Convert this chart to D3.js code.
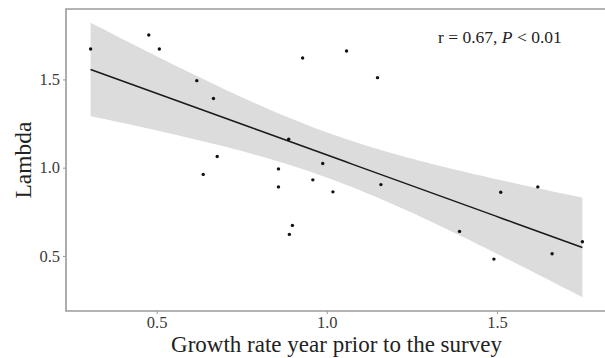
<!DOCTYPE html>
<html>
<head>
<meta charset="utf-8">
<script src="https://cdn.jsdelivr.net/npm/d3@7"></script>
<style>
body { margin: 0; background: #fff; overflow: hidden; }
svg { display: block; font-family: "Liberation Serif", "Times New Roman", serif; }
</style>
</head>
<body>
<div id="chart"></div>
<script>
var growth = [0.306, 0.477, 0.508, 0.618, 0.667, 0.929, 1.058, 1.149, 0.888, 0.678, 0.637, 0.858, 0.858,
    0.988, 0.959, 1.018, 1.159, 0.899, 0.890, 1.511, 1.620, 1.390, 1.491, 1.662, 1.751];
var lambda = [1.672, 1.752, 1.672, 1.493, 1.392, 1.621, 1.661, 1.510, 1.161, 1.063, 0.962, 0.993, 0.891,
    1.024, 0.931, 0.863, 0.904, 0.673, 0.622, 0.861, 0.891, 0.639, 0.482, 0.512, 0.580];
var x_ticks = [0.5, 1.0, 1.5];
var y_ticks = [0.5, 1.0, 1.5];
var x_title = 'Growth rate year prior to the survey';
var y_title = 'Lambda';
var t_crit = 2.069; // t(0.975, df = 23)

const width = 605, height = 358;
var margin = { top: 9, left: 66, bottom: 311, right: 607 };

// linear fit + 95% confidence band like geom_smooth(method = "lm")
var n = growth.length,
    mx = d3.mean(growth),
    my = d3.mean(lambda);
var sxx = 0, sxy = 0;
for (let i = 0; i < n; i++) {
    sxx += (growth[i] - mx) ** 2;
    sxy += (growth[i] - mx) * (lambda[i] - my);
}
var slope = sxy / sxx,
    intercept = my - slope * mx;
var ss_res = 0;
for (let i = 0; i < n; i++) {
    ss_res += (lambda[i] - (intercept + slope * growth[i])) ** 2;
}
var s = Math.sqrt(ss_res / (n - 2));

var x_ext = d3.extent(growth);
var band = d3.range(80).map(function (i) {
    var xv = x_ext[0] + (x_ext[1] - x_ext[0]) * i / 79;
    var fit = intercept + slope * xv;
    var se = s * Math.sqrt(1 / n + (xv - mx) ** 2 / sxx);
    return { x: xv, fit: fit, lo: fit - t_crit * se, hi: fit + t_crit * se };
});

var y_lo = Math.min(d3.min(lambda), d3.min(band, d => d.lo)),
    y_hi = Math.max(d3.max(lambda), d3.max(band, d => d.hi));
var x_pad = (x_ext[1] - x_ext[0]) * 0.05,
    y_pad = (y_hi - y_lo) * 0.05;

var x = d3.scaleLinear()
    .domain([x_ext[0] - x_pad, x_ext[1] + x_pad])
    .range([margin.left, margin.right]);
var y = d3.scaleLinear()
    .domain([y_lo - y_pad, y_hi + y_pad])
    .range([margin.bottom, margin.top]);

var svg = d3.select('#chart').append('svg')
    .attr('width', width)
    .attr('height', height);

svg.append('path')
    .datum(band)
    .attr('fill', '#dcdcdc')
    .attr('d', d3.area().x(d => x(d.x)).y0(d => y(d.lo)).y1(d => y(d.hi)));

svg.append('path')
    .datum(band)
    .attr('fill', 'none')
    .attr('stroke', '#1a1a1a')
    .attr('stroke-width', 1.5)
    .attr('d', d3.line().x(d => x(d.x)).y(d => y(d.fit)));

svg.selectAll('circle')
    .data(growth)
    .enter()
    .append('circle')
    .attr('cx', d => x(d))
    .attr('cy', (d, i) => y(lambda[i]))
    .attr('r', 1.7)
    .attr('fill', '#111');

// panel border: only left, top and bottom show, the right side is cut off
svg.append('path')
    .attr('d', `M${width},${margin.top}H${margin.left}V${margin.bottom}H${width}`)
    .attr('fill', 'none')
    .attr('stroke', '#9a9a9a')
    .attr('stroke-width', 1.6);

var xaxis = svg.append('g')
    .attr('transform', `translate(0,${margin.bottom})`)
    .call(d3.axisBottom(x).tickValues(x_ticks).tickFormat(d3.format('.1f')).tickSize(3).tickPadding(2));
var yaxis = svg.append('g')
    .attr('transform', `translate(${margin.left},0)`)
    .call(d3.axisLeft(y).tickValues(y_ticks).tickFormat(d3.format('.1f')).tickSize(3).tickPadding(3));

[xaxis, yaxis].forEach(function (g) {
    g.select('.domain').remove();
    g.selectAll('line').attr('stroke', '#9a9a9a');
    g.selectAll('text')
        .attr('fill', '#3a3a3a')
        .style('font-family', '"Liberation Serif", serif')
        .style('font-size', '16.5px');
});

svg.append('text')
    .attr('x', (margin.left + margin.right) / 2)
    .attr('y', 352)
    .attr('text-anchor', 'middle')
    .attr('fill', '#222')
    .style('font-size', '23px')
    .text(x_title);

svg.append('text')
    .attr('transform', `translate(31,${(margin.top + margin.bottom) / 2}) rotate(-90)`)
    .attr('text-anchor', 'middle')
    .attr('fill', '#222')
    .style('font-size', '23.5px')
    .text(y_title);

var stat = svg.append('text')
    .attr('x', 438)
    .attr('y', 43)
    .attr('fill', '#222')
    .style('font-size', '17.5px');
stat.append('tspan').text('r = 0.67, ');
stat.append('tspan').style('font-style', 'italic').text('P');
stat.append('tspan').text(' < 0.01');
</script>
</body>
</html>
